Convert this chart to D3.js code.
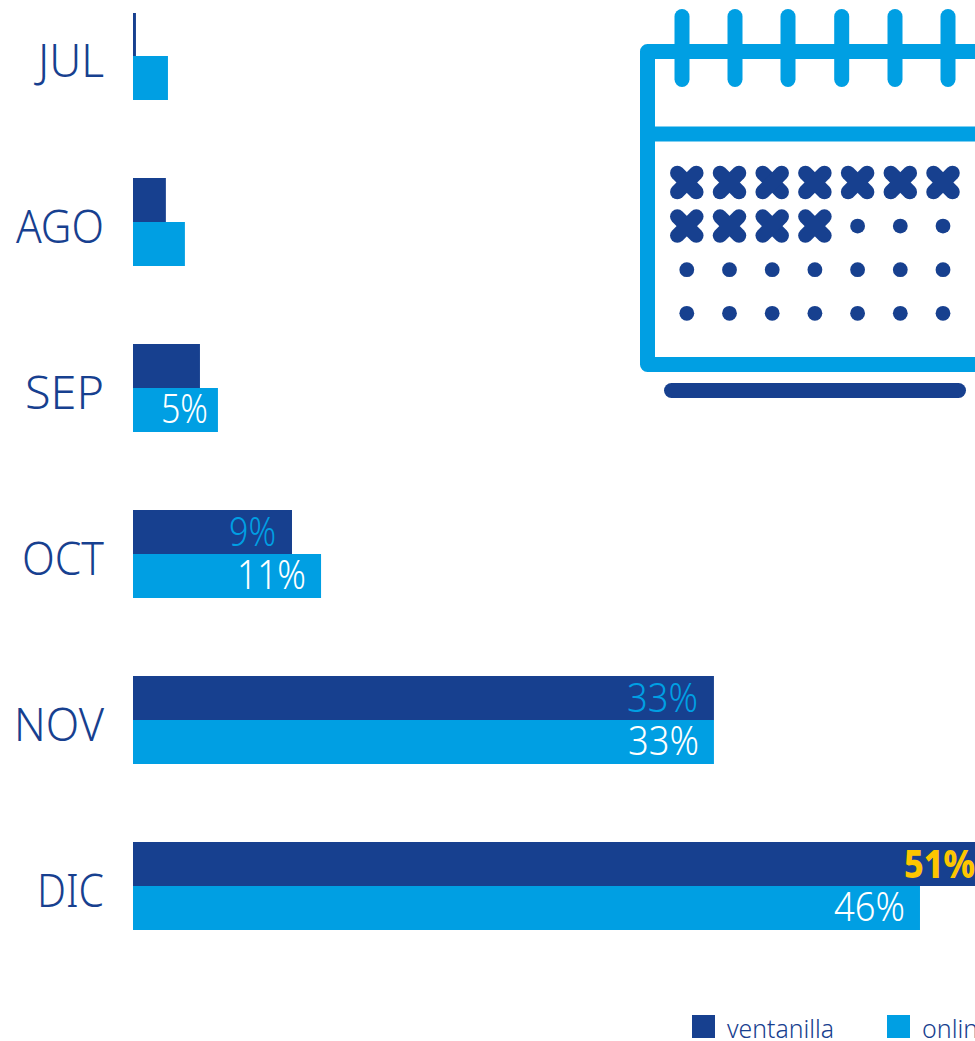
<!DOCTYPE html>
<html><head><meta charset="utf-8">
<script src="https://cdn.jsdelivr.net/npm/d3@7"></script>
<style>html,body{margin:0;padding:0;background:#fff;overflow:hidden}svg{display:block}text{font-family:"Noto Sans",sans-serif;font-weight:300}</style>
</head><body><div id="c"></div>
<script>
const months=["JUL","AGO","SEP","OCT","NOV","DIC"];
const ventanilla=[0.17,1.9,3.87,9.19,33.58,51.5];
const online=[2.02,3.0,4.91,10.87,33.58,45.49];
const ventanillaLabels=["","","","9%","33%","51%"];
const onlineLabels=["","","5%","11%","33%","46%"];
const seriesNames=["ventanilla","online"];
const dark="#17408f",light="#009fe3",gold="#fdc600";
const W=975,H=1041;
const svg=d3.select("#c").append("svg").attr("width",W).attr("height",H);
const x=d3.scaleLinear().domain([0,10]).range([133,306]);
const y=d3.scaleBand().domain(months).range([12,12+166*6]).paddingInner(0).paddingOuter(0);
const barH=44;
const monthWidth={JUL:66,AGO:88,SEP:79,OCT:82,NOV:90,DIC:67};
svg.selectAll("text.m").data(months).join("text").attr("class","m")
 .attr("x",104).attr("y",m=>y(m)+65).attr("text-anchor","end")
 .attr("font-size",46).attr("fill",dark)
 .attr("textLength",m=>monthWidth[m]).attr("lengthAdjust","spacingAndGlyphs").text(m=>m);
svg.selectAll("rect.v").data(months).join("rect").attr("class","v")
 .attr("x",x(0)).attr("y",m=>Math.max(y(m),13)).attr("height",m=>y(m)+barH-Math.max(y(m),13))
 .attr("width",(m,i)=>x(ventanilla[i])-x(0)).attr("fill",dark);
svg.selectAll("rect.o").data(months).join("rect").attr("class","o")
 .attr("x",x(0)).attr("y",m=>y(m)+barH).attr("height",barH)
 .attr("width",(m,i)=>x(online[i])-x(0)).attr("fill",light);
const lblW={"5%":47,"9%":47,"11%":69,"33%":71,"46%":71,"51%":71};
svg.selectAll("text.vl").data(months).join("text").attr("class","vl")
 .attr("x",(m,i)=>i==5?975:x(ventanilla[i])-16).attr("y",m=>y(m)+36)
 .attr("text-anchor","end").attr("font-size",40)
 .attr("fill",(m,i)=>i==5?gold:light).style("font-weight",(m,i)=>i==5?800:300)
 .attr("textLength",(m,i)=>lblW[ventanillaLabels[i]]||null).attr("lengthAdjust","spacingAndGlyphs")
 .text((m,i)=>ventanillaLabels[i]);
svg.selectAll("text.ol").data(months).join("text").attr("class","ol")
 .attr("x",(m,i)=>x(online[i])-(i==2?10:15)).attr("y",m=>y(m)+79)
 .attr("text-anchor","end").attr("font-size",40).attr("fill","#fff")
 .attr("textLength",(m,i)=>lblW[onlineLabels[i]]||null).attr("lengthAdjust","spacingAndGlyphs")
 .text((m,i)=>onlineLabels[i]);
// legend
const lx=d3.scaleOrdinal().domain(seriesNames).range([692,887]);
const lc=d3.scaleOrdinal().domain(seriesNames).range([dark,light]);
const lg=svg.selectAll("g.l").data(seriesNames).join("g").attr("class","l").attr("transform",d=>`translate(${lx(d)},1015)`);
lg.append("rect").attr("width",23).attr("height",23).attr("fill",d=>lc(d));
lg.append("text").attr("x",35).attr("y",23).attr("font-size",25).attr("fill",dark).attr("textLength",d=>d=="ventanilla"?107:null).attr("lengthAdjust","spacingAndGlyphs").text(d=>d);
// calendar icon
const ringXs=[682,735,788,841.7,895,948];
const dayCols=[0,1,2,3,4,5,6],dayRows=[0,1,2,3];
const crossedDays=11;
const cx=d3.scaleLinear().domain([0,6]).range([686.8,943]);
const cy=d3.scaleLinear().domain([0,3]).range([182.5,313.3]);
const ic=svg.append("g");
ic.append("rect").attr("x",647.5).attr("y",51.5).attr("width",500).attr("height",313).attr("fill","none").attr("stroke",light).attr("stroke-width",15).attr("stroke-linejoin","round");
ic.append("line").attr("x1",647).attr("x2",975).attr("y1",134).attr("y2",134).attr("stroke",light).attr("stroke-width",15);
ic.selectAll("line.r").data(ringXs).join("line").attr("class","r").attr("x1",d=>d).attr("x2",d=>d).attr("y1",16.5).attr("y2",79.5)
 .attr("stroke",light).attr("stroke-width",15).attr("stroke-linecap","round");
const cells=dayRows.flatMap(r=>dayCols.map(c=>({r,c,crossed:r*7+c<crossedDays})));
const a=9.5;
cells.forEach(d=>{const g=ic.append("g").attr("transform",`translate(${cx(d.c)},${cy(d.r)})`);
 if(d.crossed){[[-a,-a,a,a],[-a,a,a,-a]].forEach(p=>g.append("line").attr("x1",p[0]).attr("y1",p[1]).attr("x2",p[2]).attr("y2",p[3]).attr("stroke",dark).attr("stroke-width",14.5).attr("stroke-linecap","round"));}
 else g.append("circle").attr("r",7.4).attr("fill",dark);});
ic.append("line").attr("x1",671.5).attr("x2",958.5).attr("y1",390.5).attr("y2",390.5).attr("stroke",dark).attr("stroke-width",15).attr("stroke-linecap","round");
</script></body></html>
